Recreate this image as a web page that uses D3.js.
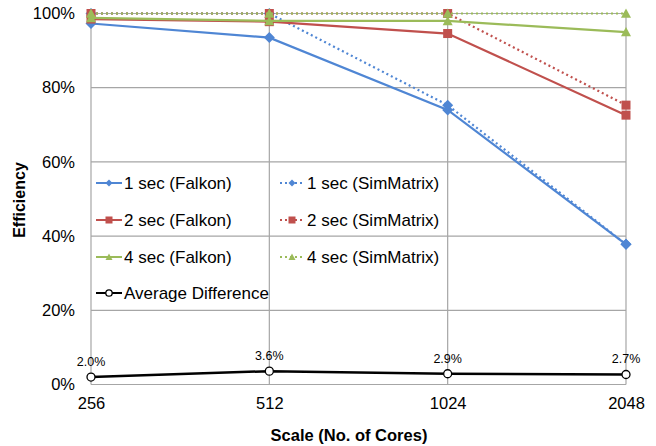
<!DOCTYPE html>
<html>
<head>
<meta charset="utf-8">
<script src="https://cdn.jsdelivr.net/npm/d3@7"></script>
<style>
  body { margin: 0; background: #fff; }
  svg { font-family: "Liberation Sans", Arial, sans-serif; }
</style>
</head>
<body>
<svg id="chart" width="656" height="446"></svg>
<script>
// categories and values
const cores = ["256", "512", "1024", "2048"];
const yTicks = [0, 20, 40, 60, 80, 100];

const falkon1 = [97.3, 93.5, 74.0, 37.8];
const simMatrix1 = [100, 100, 75.3, 37.8];
const falkon2 = [98.5, 97.8, 94.6, 72.6];
const simMatrix2 = [100, 100, 100, 75.3];
const falkon4 = [98.8, 98.0, 98.0, 95.0];
const simMatrix4 = [100, 100, 100, 100];
const avgDiff = [2.0, 3.6, 2.9, 2.7];

const series = [
  { name: "1 sec (Falkon)", values: falkon1, color: "#4f86d4", dash: null, marker: "diamond" },
  { name: "1 sec (SimMatrix)", values: simMatrix1, color: "#4f86d4", dash: "2,3", marker: "diamond" },
  { name: "2 sec (Falkon)", values: falkon2, color: "#c0504d", dash: null, marker: "square" },
  { name: "2 sec (SimMatrix)", values: simMatrix2, color: "#c0504d", dash: "2,3", marker: "square" },
  { name: "4 sec (Falkon)", values: falkon4, color: "#9bbb59", dash: null, marker: "triangle" },
  { name: "4 sec (SimMatrix)", values: simMatrix4, color: "#9bbb59", dash: "2,3", marker: "triangle" },
  { name: "Average Difference", values: avgDiff, color: "#000000", dash: null, marker: "circle" }
];

const margin = { top: 13.5, right: 30, bottom: 61.5, left: 91 };
const width = 656, height = 446;
const innerW = width - margin.left - margin.right;
const innerH = height - margin.top - margin.bottom;

const svg = d3.select("#chart");
const g = svg.append("g").attr("transform", `translate(${margin.left},${margin.top})`);

const x = d3.scalePoint().domain(cores).range([0, innerW]);
const y = d3.scaleLinear().domain([0, 100]).range([innerH, 0]);

// grid
g.append("g").selectAll("line").data(yTicks).join("line")
  .attr("x1", 0).attr("x2", innerW)
  .attr("y1", d => y(d)).attr("y2", d => y(d))
  .attr("stroke", "#a6a6a6").attr("stroke-width", 1.2);
g.append("g").selectAll("line").data(cores).join("line")
  .attr("x1", d => x(d)).attr("x2", d => x(d))
  .attr("y1", 0).attr("y2", innerH)
  .attr("stroke", "#a6a6a6").attr("stroke-width", 1.2);

// axes
const yAxis = g.append("g")
  .call(d3.axisLeft(y).tickValues(yTicks).tickFormat(d => d + "%").tickSize(0).tickPadding(16));
yAxis.select(".domain").remove();
yAxis.selectAll("text").attr("font-size", 16.5).attr("fill", "#000").attr("font-family", "Liberation Sans, Arial, sans-serif");

const xAxis = g.append("g").attr("transform", `translate(0,${innerH})`)
  .call(d3.axisBottom(x).tickSize(0).tickPadding(13));
xAxis.select(".domain").remove();
xAxis.selectAll("text").attr("font-size", 16.5).attr("fill", "#000").attr("font-family", "Liberation Sans, Arial, sans-serif");

svg.append("text")
  .attr("x", 349).attr("y", 441)
  .attr("text-anchor", "middle").attr("font-size", 16.5).attr("font-weight", "bold")
  .text("Scale (No. of Cores)");
svg.append("text")
  .attr("transform", `translate(25,200) rotate(-90)`)
  .attr("text-anchor", "middle").attr("font-size", 16).attr("font-weight", "bold")
  .text("Efficiency");

function drawMarker(sel, type, color, size) {
  if (type === "circle") {
    sel.append("circle").attr("r", size * 0.4).attr("fill", "#fff")
      .attr("stroke", color).attr("stroke-width", 1.3);
    return;
  }
  if (type === "diamond") {
    const h = size / 2;
    sel.append("path").attr("d", `M0,${-h}L${h},0L0,${h}L${-h},0Z`).attr("fill", color);
    return;
  }
  if (type === "square") {
    sel.append("rect").attr("x", -size / 2).attr("y", -size / 2)
      .attr("width", size).attr("height", size).attr("fill", color);
    return;
  }
  const h = size / 2;
  sel.append("path").attr("d", `M0,${-h}L${h},${h * 0.85}L${-h},${h * 0.85}Z`).attr("fill", color);
}

const line = d3.line().x((d, i) => x(cores[i])).y(d => y(d));

series.forEach(s => {
  g.append("path").datum(s.values)
    .attr("d", line).attr("fill", "none")
    .attr("stroke", s.color).attr("stroke-width", s.marker === "circle" ? 2.5 : 2.2)
    .attr("stroke-dasharray", s.dash);
  const pts = g.append("g").selectAll("g").data(s.values).join("g")
    .attr("transform", (d, i) => `translate(${x(cores[i])},${y(d)})`);
  const size = s.marker === "diamond" ? 11 : s.marker === "square" ? 9 : 10;
  pts.each(function () { drawMarker(d3.select(this), s.marker, s.color, size); });
});

// data labels for the average difference
g.append("g").selectAll("text").data(avgDiff).join("text")
  .attr("x", (d, i) => x(cores[i]))
  .attr("y", d => y(d) - 11)
  .attr("text-anchor", "middle").attr("font-size", 12.5)
  .text(d => d.toFixed(1) + "%");

// legend
const legend = svg.append("g");
const colX = [96, 280];
const textX = [124, 307];
const rowY = [183, 220, 257, 293];
series.forEach((s, i) => {
  const col = i === 6 ? 0 : i % 2;
  const row = i === 6 ? 3 : Math.floor(i / 2);
  const lg = legend.append("g");
  const len = col === 0 ? 26 : 22;
  lg.append("line")
    .attr("x1", colX[col]).attr("x2", colX[col] + len)
    .attr("y1", rowY[row]).attr("y2", rowY[row])
    .attr("stroke", s.color).attr("stroke-width", 2)
    .attr("stroke-dasharray", s.dash);
  const m = lg.append("g").attr("transform", `translate(${colX[col] + len / 2 + (col === 1 ? 1 : 0)},${rowY[row]})`);
  drawMarker(m, s.marker, s.color, s.marker === "circle" ? 8 : 7);
  lg.append("text")
    .attr("x", textX[col]).attr("y", rowY[row] + 6)
    .attr("font-size", 17)
    .text(s.name);
});
</script>
</body>
</html>
